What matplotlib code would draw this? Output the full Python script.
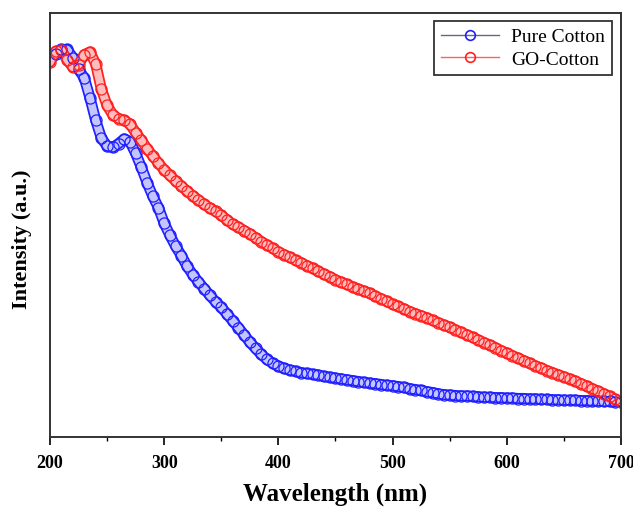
import numpy as np
import matplotlib.pyplot as plt
import matplotlib.patheffects as pe
from matplotlib.lines import Line2D
from matplotlib.ticker import MultipleLocator

wl_pure = [205, 210, 215, 220, 225, 230, 235, 240, 245, 250, 255, 260, 265, 270, 275,
           280, 285, 290, 295, 300, 305, 310, 315, 320, 325, 330, 335, 340, 345, 350,
           355, 360, 365, 370, 375, 380, 385, 390, 395, 400, 405, 410, 415, 420, 425,
           430, 435, 440, 445, 450, 455, 460, 465, 470, 475, 480, 485, 490, 495, 500,
           505, 510, 515, 520, 525, 530, 535, 540, 545, 550, 555, 560, 565, 570, 575,
           580, 585, 590, 595, 600, 605, 610, 615, 620, 625, 630, 635, 640, 645, 650,
           655, 660, 665, 670, 675, 680, 685, 690, 695, 700]
pure_cotton = [0.903, 0.914, 0.914, 0.895, 0.867, 0.847, 0.800, 0.747, 0.705, 0.686,
               0.683, 0.692, 0.703, 0.697, 0.669, 0.636, 0.600, 0.568, 0.541, 0.504,
               0.476, 0.450, 0.428, 0.403, 0.383, 0.366, 0.350, 0.334, 0.319, 0.306,
               0.290, 0.274, 0.258, 0.241, 0.224, 0.209, 0.195, 0.183, 0.174, 0.167,
               0.162, 0.158, 0.155, 0.152, 0.150, 0.148, 0.146, 0.143, 0.141, 0.139,
               0.137, 0.135, 0.133, 0.131, 0.129, 0.127, 0.126, 0.124, 0.122, 0.121,
               0.119, 0.117, 0.114, 0.112, 0.110, 0.107, 0.105, 0.102, 0.100, 0.099,
               0.098, 0.097, 0.097, 0.096, 0.095, 0.094, 0.094, 0.093, 0.093, 0.092,
               0.092, 0.091, 0.091, 0.090, 0.090, 0.089, 0.089, 0.088, 0.088, 0.087,
               0.087, 0.087, 0.086, 0.086, 0.085, 0.085, 0.084, 0.084, 0.083, 0.083]

wl_go = [200, 205, 210, 215, 220, 225, 230, 235, 240, 245, 250, 255, 260, 265, 270,
         275, 280, 285, 290, 295, 300, 305, 310, 315, 320, 325, 330, 335, 340, 345,
         350, 355, 360, 365, 370, 375, 380, 385, 390, 395, 400, 405, 410, 415, 420,
         425, 430, 435, 440, 445, 450, 455, 460, 465, 470, 475, 480, 485, 490, 495,
         500, 505, 510, 515, 520, 525, 530, 535, 540, 545, 550, 555, 560, 565, 570,
         575, 580, 585, 590, 595, 600, 605, 610, 615, 620, 625, 630, 635, 640, 645,
         650, 655, 660, 665, 670, 675, 680, 685, 690, 695, 700]
go_cotton = [0.884, 0.910, 0.912, 0.890, 0.872, 0.878, 0.902, 0.908, 0.880, 0.820,
             0.782, 0.760, 0.751, 0.747, 0.738, 0.718, 0.700, 0.680, 0.663, 0.646,
             0.630, 0.617, 0.604, 0.592, 0.580, 0.569, 0.559, 0.549, 0.540, 0.532,
             0.523, 0.512, 0.502, 0.495, 0.487, 0.479, 0.470, 0.461, 0.453, 0.445,
             0.437, 0.430, 0.424, 0.417, 0.411, 0.404, 0.398, 0.391, 0.384, 0.378,
             0.371, 0.365, 0.360, 0.354, 0.349, 0.344, 0.339, 0.332, 0.326, 0.320,
             0.313, 0.308, 0.302, 0.296, 0.291, 0.286, 0.281, 0.275, 0.270, 0.264,
             0.259, 0.253, 0.247, 0.241, 0.235, 0.229, 0.223, 0.217, 0.211, 0.204,
             0.198, 0.192, 0.186, 0.180, 0.174, 0.168, 0.163, 0.157, 0.152, 0.147,
             0.142, 0.137, 0.132, 0.126, 0.120, 0.114, 0.108, 0.102, 0.096, 0.089,
             0.083]

x_ticks = [200, 300, 400, 500, 600, 700]

BLUE = '#2020ff'
RED = '#ff2020'


def ribbon(color, tint):
    # thick band under the open circles, like the densely packed markers
    return [pe.Stroke(linewidth=8.0, foreground=color, joinstyle='round', capstyle='round'),
            pe.Stroke(linewidth=5.5, foreground=tint, joinstyle='round', capstyle='round')]


def main():
    plt.rcParams['font.family'] = ['Liberation Serif', 'DejaVu Serif']
    fig = plt.figure(figsize=(6.33, 5.10), dpi=100)
    ax = fig.add_axes([0.079, 0.141, 0.902, 0.8315])

    ax.plot(wl_pure, pure_cotton, '-', color=BLUE, lw=1,
            path_effects=ribbon(BLUE, '#c4c4ff'))
    ax.plot(wl_go, go_cotton, '-', color=RED, lw=1,
            path_effects=ribbon(RED, '#ffbcbc'))
    ax.plot(wl_pure, pure_cotton, 'o', mfc='none', mec=BLUE, ms=8, mew=0.9)
    ax.plot(wl_go, go_cotton, 'o', mfc='none', mec=RED, ms=8, mew=0.9)

    ax.set_xlim(200, 700)
    ax.set_ylim(0, 1)
    ax.set_xticks(x_ticks)
    ax.xaxis.set_minor_locator(MultipleLocator(50))
    ax.set_yticks([])
    ax.tick_params(axis='x', which='major', direction='out', length=6, width=1.2,
                   labelsize=13, pad=6)
    ax.tick_params(axis='x', which='minor', direction='out', length=3, width=1.0)
    for lab in ax.get_xticklabels():
        lab.set_fontweight('bold')
    for sp in ax.spines.values():
        sp.set_linewidth(1.4)
        sp.set_color('#333333')

    ax.set_xlabel('Wavelength (nm)', fontsize=18, fontweight='bold', labelpad=8)
    ax.set_ylabel('Intensity (a.u.)', fontsize=16, fontweight='bold')
    ax.yaxis.set_label_coords(-0.031, 0.47)

    handles = [
        Line2D([], [], color='#666688', lw=1, marker='o', mfc='none', mec=BLUE,
               ms=7, mew=1.2, label='Pure Cotton'),
        Line2D([], [], color='#ff6060', lw=1, marker='o', mfc='none', mec=RED,
               ms=7, mew=1.2, label='GO-Cotton'),
    ]
    leg = ax.legend(handles=handles, loc='upper right', fontsize=14, fancybox=False,
                    edgecolor='#333333', framealpha=1, borderpad=0.35,
                    handlelength=3.0, handletextpad=0.6, labelspacing=0.25,
                    borderaxespad=0, bbox_to_anchor=(0.984, 0.981))
    leg.get_frame().set_linewidth(1.3)

    fig.savefig('out.png', dpi=100)


if __name__ == '__main__':
    main()
